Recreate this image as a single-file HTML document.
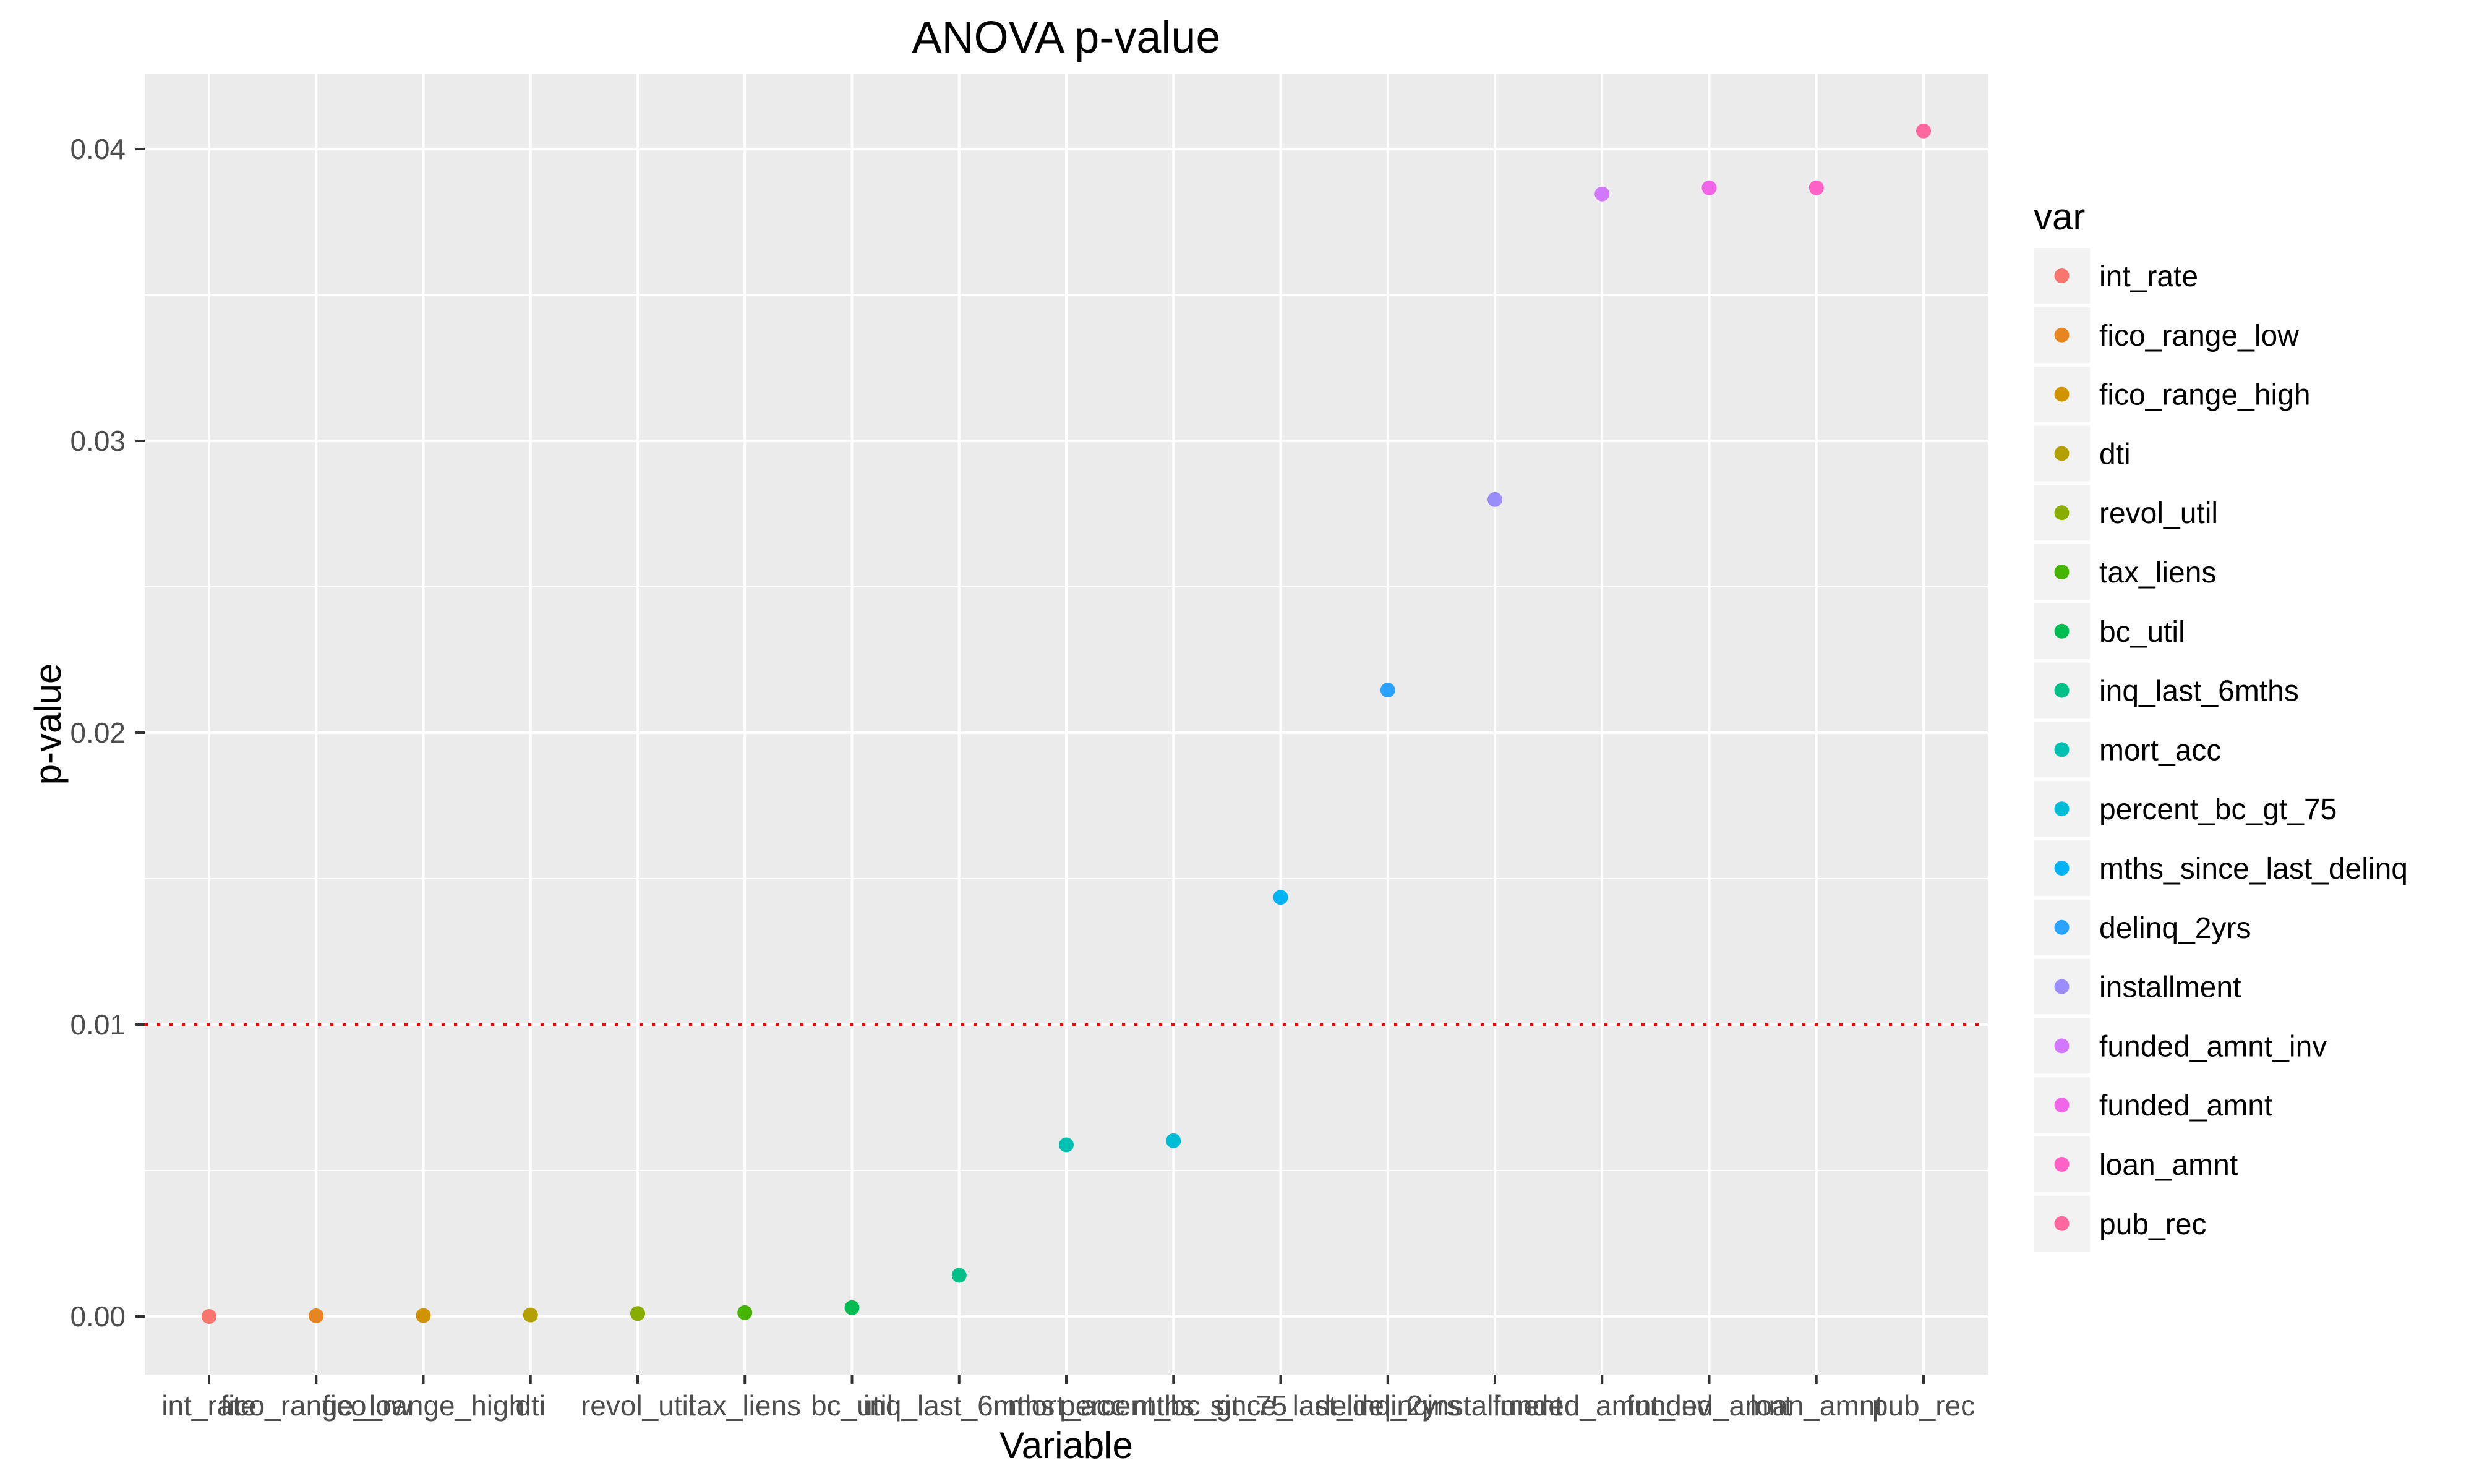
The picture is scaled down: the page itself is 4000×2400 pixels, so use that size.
<!DOCTYPE html>
<html><head><meta charset="utf-8"><style>
html,body{margin:0;padding:0;background:#fff;}
svg{display:block;font-family:"Liberation Sans",Arial,sans-serif;}
</style></head><body>
<svg id="chart" width="4000" height="2400" viewBox="0 0 4000 2400" xmlns="http://www.w3.org/2000/svg">
<rect x="0" y="0" width="4000" height="2400" fill="#fff"/>
<text x="1724" y="85" font-size="72" text-anchor="middle" fill="#000">ANOVA p-value</text>
<g id="panel"></g>
<g id="axes"></g>
<g id="points"></g>
<g id="legend"></g>
<text x="1724" y="2358" font-size="60" text-anchor="middle" fill="#000">Variable</text>
<text x="0" y="0" font-size="60" text-anchor="middle" fill="#000" transform="translate(98,1171) rotate(-90)">p-value</text>
</svg>
<script>
const categories = ["int_rate","fico_range_low","fico_range_high","dti","revol_util","tax_liens","bc_util","inq_last_6mths","mort_acc","percent_bc_gt_75","mths_since_last_delinq","delinq_2yrs","installment","funded_amnt_inv","funded_amnt","loan_amnt","pub_rec"];
const pvalues = [0.00000,0.00002,0.00003,0.00005,0.0001,0.00013,0.0003,0.00141,0.00588,0.00602,0.01436,0.02146,0.02799,0.03846,0.03867,0.03867,0.04062];
const colors = ["#F8766D","#E7851E","#D09400","#B2A100","#89AC00","#45B500","#00BC51","#00C087","#00C0B2","#00BCD6","#00B3F2","#29A3FF","#9C8DFF","#D277FF","#F166E8","#FF61C7","#FF689F"];
const yTicks = [0.00,0.01,0.02,0.03,0.04];
const yTickLabels = ["0.00","0.01","0.02","0.03","0.04"];
const yMinor = [0.005,0.015,0.025,0.035];
const threshold = [0.01];

const NS = "http://www.w3.org/2000/svg";
const PL = 234, PR = 3214, PT = 120, PB = 2223;
const X0 = 338, DX = 173.25;
const Y0 = 2129, YS = 47200;
function xs(i){ return X0 + i*DX; }
function ys(v){ return Y0 - v*YS; }
function mk(tag, attrs, parent){
  const e = document.createElementNS(NS, tag);
  for (const k in attrs) e.setAttribute(k, attrs[k]);
  parent.appendChild(e);
  return e;
}
const panel = document.getElementById('panel');
const axes = document.getElementById('axes');
const pts = document.getElementById('points');
const leg = document.getElementById('legend');

const bg = mk('rect', {x:PL, y:PT, width:PR-PL, height:PB-PT, fill:'#EBEBEB'}, panel);



yMinor.forEach(v => {
  const l = mk('line', {x1:PL, x2:PR, y1:ys(v), y2:ys(v), stroke:'#fff', 'stroke-width':2}, panel);
  
  
});
yTicks.forEach((v, i) => {
  const l = mk('line', {x1:PL, x2:PR, y1:ys(v), y2:ys(v), stroke:'#fff', 'stroke-width':4}, panel);
  
  
  const t = mk('line', {x1:PL-15, x2:PL, y1:ys(v), y2:ys(v), stroke:'#333', 'stroke-width':4}, axes);
  
  
  const tx = mk('text', {x:PL-31, y:ys(v)+16, 'font-size':46, 'text-anchor':'end', fill:'#4D4D4D'}, axes);
  tx.textContent = yTickLabels[i];
  
  
});
categories.forEach((c, i) => {
  const l = mk('line', {x1:xs(i), x2:xs(i), y1:PT, y2:PB, stroke:'#fff', 'stroke-width':4}, panel);
  
  
  const t = mk('line', {x1:xs(i), x2:xs(i), y1:PB, y2:PB+15, stroke:'#333', 'stroke-width':4}, axes);
  
  
  const tx = mk('text', {x:xs(i), y:2289, 'font-size':46, 'text-anchor':'middle', fill:'#4D4D4D'}, axes);
  tx.textContent = c;
  
  
});
threshold.forEach(v => {
  const l = mk('line', {x1:PL, x2:PR, y1:ys(v), y2:ys(v), stroke:'#FF0000', 'stroke-width':5, 'stroke-dasharray':'5 15'}, panel);
  
  
});
pvalues.forEach((v, i) => {
  const p = mk('circle', {cx:xs(i), cy:ys(v), r:12, fill:colors[i]}, pts);
  
  
});

const lt = mk('text', {x:3288, y:371, 'font-size':60, fill:'#000'}, leg);
lt.textContent = 'var';


categories.forEach((c, i) => {
  const cy = 446 + i*95.8;
  const g = mk('g', {}, leg);
  
  
  mk('rect', {x:3288, y:cy-45, width:91, height:90, fill:'#F2F2F2'}, g);
  mk('circle', {cx:3333.5, cy:cy, r:12, fill:colors[i]}, g);
  const t = mk('text', {x:3394, y:cy+17, 'font-size':48, fill:'#000'}, g);
  t.textContent = c;
});
</script>
</body></html>
